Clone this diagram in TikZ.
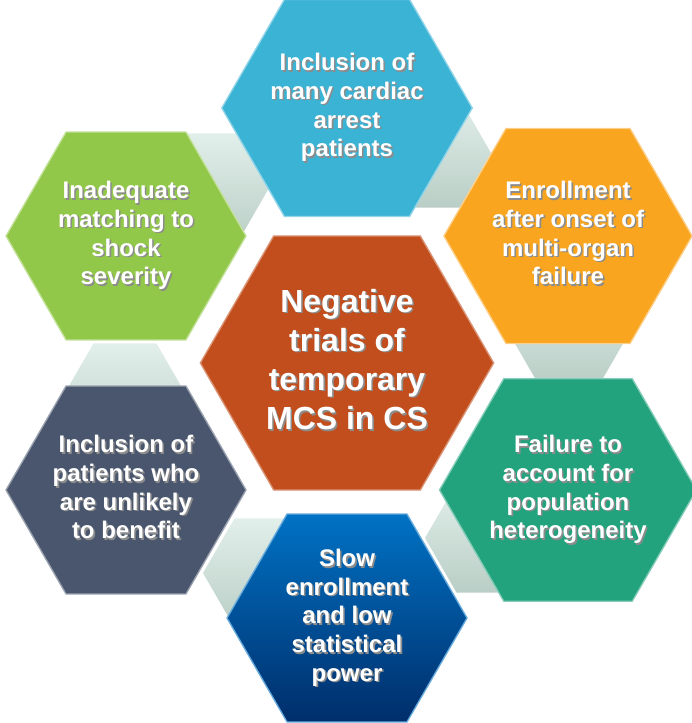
\documentclass[tikz,border=0pt]{standalone}
\usepackage{fontspec}
\setmainfont{Liberation Sans}
\usetikzlibrary{shapes.geometric}

\definecolor{hexcyan}{HTML}{3BB3D5}
\definecolor{hexorange}{HTML}{F9A51F}
\definecolor{hexgreen}{HTML}{92C849}
\definecolor{hexslate}{HTML}{49566D}
\definecolor{hexteal}{HTML}{22A37E}
\definecolor{hexrust}{HTML}{C14E1C}
\definecolor{hexbluetop}{HTML}{0072C4}
\definecolor{hexbluebot}{HTML}{002E6B}
\definecolor{linktop}{HTML}{E2EFEA}
\definecolor{linkbot}{HTML}{B9CEC6}

% white text with a small drop shadow
\newcommand{\hextext}[1]{{\setlength{\tabcolsep}{0pt}%
  \rlap{\raisebox{-1.2pt}[0pt][0pt]{\hspace{1.2pt}\color{black!45}\begin{tabular}{c}#1\end{tabular}}}%
  \begin{tabular}{c}#1\end{tabular}}}

\begin{document}
\begin{tikzpicture}[x=0.75pt,y=-0.75pt,
  hexa/.style={regular polygon,regular polygon sides=6,inner sep=0pt},
  outer/.style={hexa,minimum size=180pt,fill=#1,draw=#1!55!white,line width=1pt,text=white,font=\fontsize{18}{21.5}\selectfont\bfseries},
  core/.style={hexa,minimum size=220pt,fill=hexrust,draw=hexrust!60!white,line width=1pt,text=white,font=\fontsize{24}{29.3}\selectfont\bfseries},
  link/.style={hexa,minimum size=94.5pt,top color=linktop,bottom color=linkbot,draw=none}]
\useasboundingbox (0,0) rectangle (691,723);
% pale links between neighbours
\node[link] (k1) at (569,328) {};
\node[link] (k2) at (428,153) {};
\node[link] (k3) at (206,188) {};
\node[link] (k4) at (125,398) {};
\node[link] (k5) at (266,573) {};
\node[link] (k6) at (488,538) {};
% ring of causes
\node[outer=hexcyan] (h1) at (347,108) {\hextext{Inclusion of\\many cardiac\\arrest\\patients}};
\node[outer=hexorange] (h2) at (568,236) {\hextext{Enrollment\\after onset of\\multi-organ\\failure}};
\node[outer=hexteal] (h3) at (568,490) {\hextext{Failure to\\account for\\population\\heterogeneity}};
\node[outer=hexbluetop,top color=hexbluetop,bottom color=hexbluebot,draw=hexbluetop!60!white] (h4) at (347,618) {\hextext{Slow\\enrollment\\and low\\statistical\\power}};
\node[outer=hexslate] (h5) at (126,490) {\hextext{Inclusion of\\patients who\\are unlikely\\to benefit}};
\node[outer=hexgreen] (h6) at (126,236) {\hextext{Inadequate\\matching to\\shock\\severity}};
% centre
\node[core] (mid) at (347,363) {\hextext{Negative\\trials of\\temporary\\MCS in CS}};
\end{tikzpicture}
\end{document}
